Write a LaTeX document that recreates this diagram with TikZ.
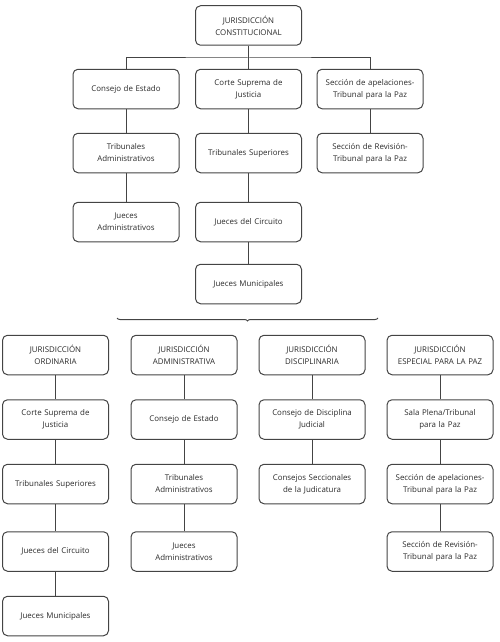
\documentclass[tikz,border=0pt]{standalone}
\usepackage{fontspec}
\setmainfont{Open Sans}
\usetikzlibrary{decorations.pathreplacing}
\definecolor{boxline}{HTML}{444444}
\definecolor{txt}{HTML}{2A2A2A}
\tikzset{
  orgbox/.style={draw=boxline, line width=1pt, rounded corners=5pt, minimum width=106pt, minimum height=39.5pt,
    text width=106pt, align=center, inner sep=0pt, text=txt, font=\fontsize{7.9}{12}\selectfont},
  link/.style={draw=boxline, line width=1pt}
}
\begin{document}
\begin{tikzpicture}[x=1pt,y=-1pt]
\useasboundingbox (0,0) rectangle (499,642);
% top tree
\node[orgbox] (T) at (248.5,25.5) {JURISDICCIÓN\\CONSTITUCIONAL};
\node[orgbox] (a1) at (126,89) {Consejo de Estado};
\node[orgbox] (a2) at (248.5,89) {Corte Suprema de\\Justicia};
\node[orgbox] (a3) at (370,89) {Sección de apelaciones-\\Tribunal para la Paz};
\node[orgbox] (b1) at (126,153) {Tribunales\\Administrativos};
\node[orgbox] (b2) at (248.5,153) {Tribunales Superiores};
\node[orgbox] (b3) at (370,153) {Sección de Revisión-\\Tribunal para la Paz};
\node[orgbox] (c1) at (126,222) {Jueces\\Administrativos};
\node[orgbox] (c2) at (248.5,222) {Jueces del Circuito};
\node[orgbox] (d2) at (248.5,284) {Jueces Municipales};
\coordinate (bus) at (248.5,58);
\draw[link] (T.south) -- (a2.north);
\draw[link] (a1.north) |- (bus) -| (a3.north);
\draw[link] (a1) -- (b1) -- (c1);
\draw[link] (a2) -- (b2) -- (c2) -- (d2);
\draw[link] (a3) -- (b3);
% brace
\coordinate (brR) at (378,318);
\coordinate (brL) at (117,318);
\draw[link, decorate, decoration={brace, amplitude=3pt}] (brR) -- (brL);
% bottom columns
\node[orgbox] (o1) at (55.5,355) {JURISDICCIÓN\\ORDINARIA};
\node[orgbox] (o2) at (55.5,419.5) {Corte Suprema de\\Justicia};
\node[orgbox] (o3) at (55.5,484) {Tribunales Superiores};
\node[orgbox] (o4) at (55.5,551.5) {Jueces del Circuito};
\node[orgbox] (o5) at (55.5,616) {Jueces Municipales};
\draw[link] (o1) -- (o2) -- (o3) -- (o4) -- (o5);
\node[orgbox] (m1) at (184,355) {JURISDICCIÓN\\ADMINISTRATIVA};
\node[orgbox] (m2) at (184,419.5) {Consejo de Estado};
\node[orgbox] (m3) at (184,484) {Tribunales\\Administrativos};
\node[orgbox] (m4) at (184,551.5) {Jueces\\Administrativos};
\draw[link] (m1) -- (m2) -- (m3) -- (m4);
\node[orgbox] (d1) at (312,355) {JURISDICCIÓN\\DISCIPLINARIA};
\node[orgbox] (dd2) at (312,419.5) {Consejo de Disciplina\\Judicial};
\node[orgbox] (dd3) at (312,484) {Consejos Seccionales\\de la Judicatura};
\draw[link] (d1) -- (dd2) -- (dd3);
\node[orgbox] (e1) at (440,355) {JURISDICCIÓN\\ESPECIAL PARA LA PAZ};
\node[orgbox] (e2) at (440,419.5) {Sala Plena/Tribunal\\para la Paz};
\node[orgbox] (e3) at (440,484) {Sección de apelaciones-\\Tribunal para la Paz};
\node[orgbox] (e4) at (440,551.5) {Sección de Revisión-\\Tribunal para la Paz};
\draw[link] (e1) -- (e2) -- (e3) -- (e4);
\end{tikzpicture}
\end{document}
